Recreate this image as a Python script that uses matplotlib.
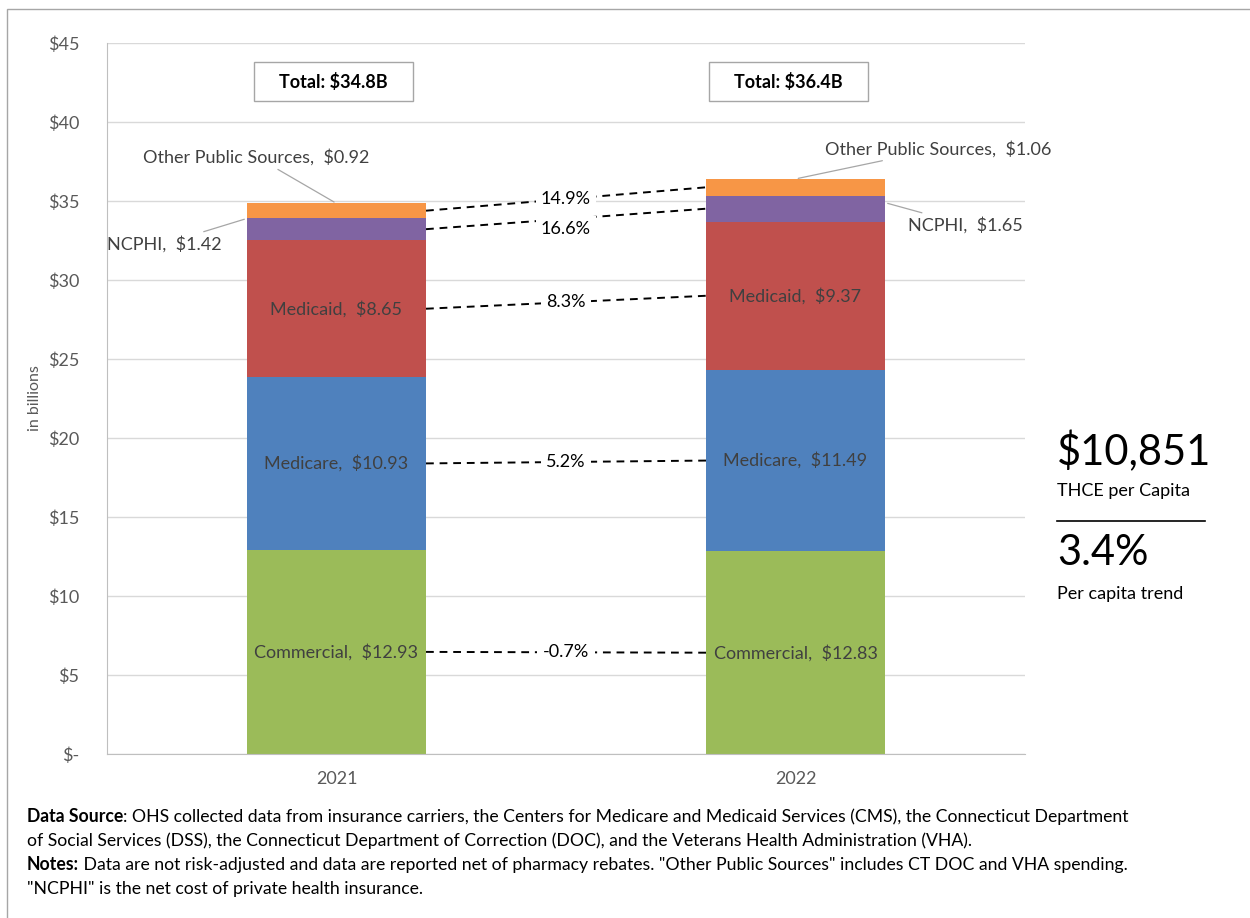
import numpy as np
import matplotlib.pyplot as plt
from matplotlib.patches import Rectangle
from matplotlib.lines import Line2D

plt.rcParams['font.family'] = ['Lato', 'DejaVu Sans']

# Data (billions)
years = ['2021', '2022']
categories = ['Commercial', 'Medicare', 'Medicaid', 'NCPHI', 'Other Public Sources']
values_2021 = [12.93, 10.93, 8.65, 1.42, 0.92]
values_2022 = [12.83, 11.49, 9.37, 1.65, 1.06]
totals = ['Total: $34.8B', 'Total: $36.4B']
growth = ['-0.7%', '5.2%', '8.3%', '16.6%', '14.9%']
colors = ['#9BBB59', '#4F81BD', '#C0504D', '#8064A2', '#F79646']

fig = plt.figure(figsize=(12.5, 9.18), dpi=100)
ax = fig.add_axes([0.0856, 0.1786, 0.7344, 0.7745])

x = np.arange(len(years))
width = 0.39
data = np.array([values_2021, values_2022])
bottoms = np.zeros(len(years))
mids = []
for i, cat in enumerate(categories):
    vals = data[:, i]
    ax.bar(x, vals, width, bottom=bottoms, color=colors[i], zorder=2)
    mids.append(bottoms + vals / 2)
    bottoms = bottoms + vals
mids = np.array(mids)

lab_col = '#404040'
fs = 13
# in-bar labels for big segments
for i in range(3):
    for j in range(2):
        ax.text(x[j], mids[i, j], f'{categories[i]},  ${data[j, i]:.2f}',
                ha='center', va='center', fontsize=fs, color=lab_col, zorder=4)

# outside labels with leader lines
lead = dict(arrowstyle='-', color='#A6A6A6', lw=0.9)
ax.annotate(f'Other Public Sources,  ${values_2021[4]:.2f}', xy=(0, bottoms[0]),
            xytext=(-0.175, 37.8), ha='center', va='center', fontsize=fs,
            color=lab_col, arrowprops=lead)
ax.annotate(f'NCPHI,  ${values_2021[3]:.2f}', xy=(-width / 2, 33.9),
            xytext=(-0.25, 32.3), ha='right', va='center', fontsize=fs,
            color=lab_col, arrowprops=lead)
ax.annotate(f'Other Public Sources,  ${values_2022[4]:.2f}', xy=(1, bottoms[1]),
            xytext=(1.065, 38.3), ha='left', va='center', fontsize=fs,
            color=lab_col, arrowprops=lead)
ax.annotate(f'NCPHI,  ${values_2022[3]:.2f}', xy=(1 + width / 2, 34.9),
            xytext=(1.245, 33.5), ha='left', va='center', fontsize=fs,
            color=lab_col, arrowprops=lead)

# dashed growth connectors
label_shift = [0, 0, 0, -0.65, 0.0]
for i in range(5):
    y0, y1 = mids[i, 0], mids[i, 1]
    ax.plot([x[0] + width / 2, x[1] - width / 2], [y0, y1], ls=(0, (4, 3)),
            color='black', lw=1.4, zorder=3)
    ax.text(0.5, (y0 + y1) / 2 + label_shift[i], growth[i], ha='center', va='center',
            fontsize=fs, color='black', zorder=4,
            bbox=dict(boxstyle='square,pad=0.3', fc='white', ec='none'))

# total boxes
box_left = [-0.18, 0.8115]
for j in range(2):
    ax.add_patch(Rectangle((box_left[j], 41.33), 0.3464, 2.47, fc='white',
                           ec='#A6A6A6', lw=1, zorder=3))
    ax.text(box_left[j] + 0.3464 / 2, 42.55, totals[j], ha='center', va='center',
            fontsize=fs, fontweight='bold', color='black', zorder=4)

ax.set_xlim(-0.5, 1.5)
ax.set_ylim(0, 45)
ax.set_yticks(np.arange(0, 46, 5))
ax.set_yticklabels(['$-'] + [f'${v}' for v in range(5, 46, 5)])
ax.set_xticks(x)
ax.set_xticklabels(years)
ax.tick_params(length=0, labelsize=13, colors='#595959', pad=12)
ax.tick_params(axis='y', pad=20)
ax.yaxis.grid(True, color='#D9D9D9', lw=1, zorder=0)
ax.set_axisbelow(True)
for s in ['top', 'right']:
    ax.spines[s].set_visible(False)
for s in ['left', 'bottom']:
    ax.spines[s].set_color('#BFBFBF')
ax.set_ylabel('in billions', fontsize=11.5, color='#595959', labelpad=4)

# right side callout
cx = 1057 / 1250
fig.text(cx, 1 - 452 / 918, '$10,851', fontsize=30, va='center', ha='left')
fig.text(cx, 1 - 491 / 918, 'THCE per Capita', fontsize=13, va='center', ha='left')
fig.add_artist(Line2D([cx, 1205 / 1250], [1 - 521 / 918] * 2, color='black', lw=1.2))
fig.text(cx, 1 - 553 / 918, '3.4%', fontsize=30, va='center', ha='left')
fig.text(cx, 1 - 594 / 918, 'Per capita trend', fontsize=13, va='center', ha='left')

# footnotes
notes = [
    ('Data Source', ': OHS collected data from insurance carriers, the Centers for Medicare and Medicaid Services (CMS), the Connecticut Department'),
    ('', 'of Social Services (DSS), the Connecticut Department of Correction (DOC), and the Veterans Health Administration (VHA).'),
    ('Notes:', ' Data are not risk-adjusted and data are reported net of pharmacy rebates. "Other Public Sources" includes CT DOC and VHA spending.'),
    ('', '"NCPHI" is the net cost of private health insurance.'),
]
ys = [817, 841, 865, 889]
for (b, r), yy in zip(notes, ys):
    t = fig.text(27 / 1250, 1 - yy / 918, b, fontsize=12.7, fontweight='bold', va='center', ha='left')
    ax.annotate(r, xy=(1, 0.5), xycoords=t, va='center', ha='left', fontsize=12.7,
                annotation_clip=False)

# outer border
fig.patches.append(Rectangle((7 / 1250, -0.05), 1.1, 1 - 9 / 918 + 0.05,
                             transform=fig.transFigure, fill=False, ec='#A6A6A6', lw=1))

fig.savefig('out.png', dpi=100)
